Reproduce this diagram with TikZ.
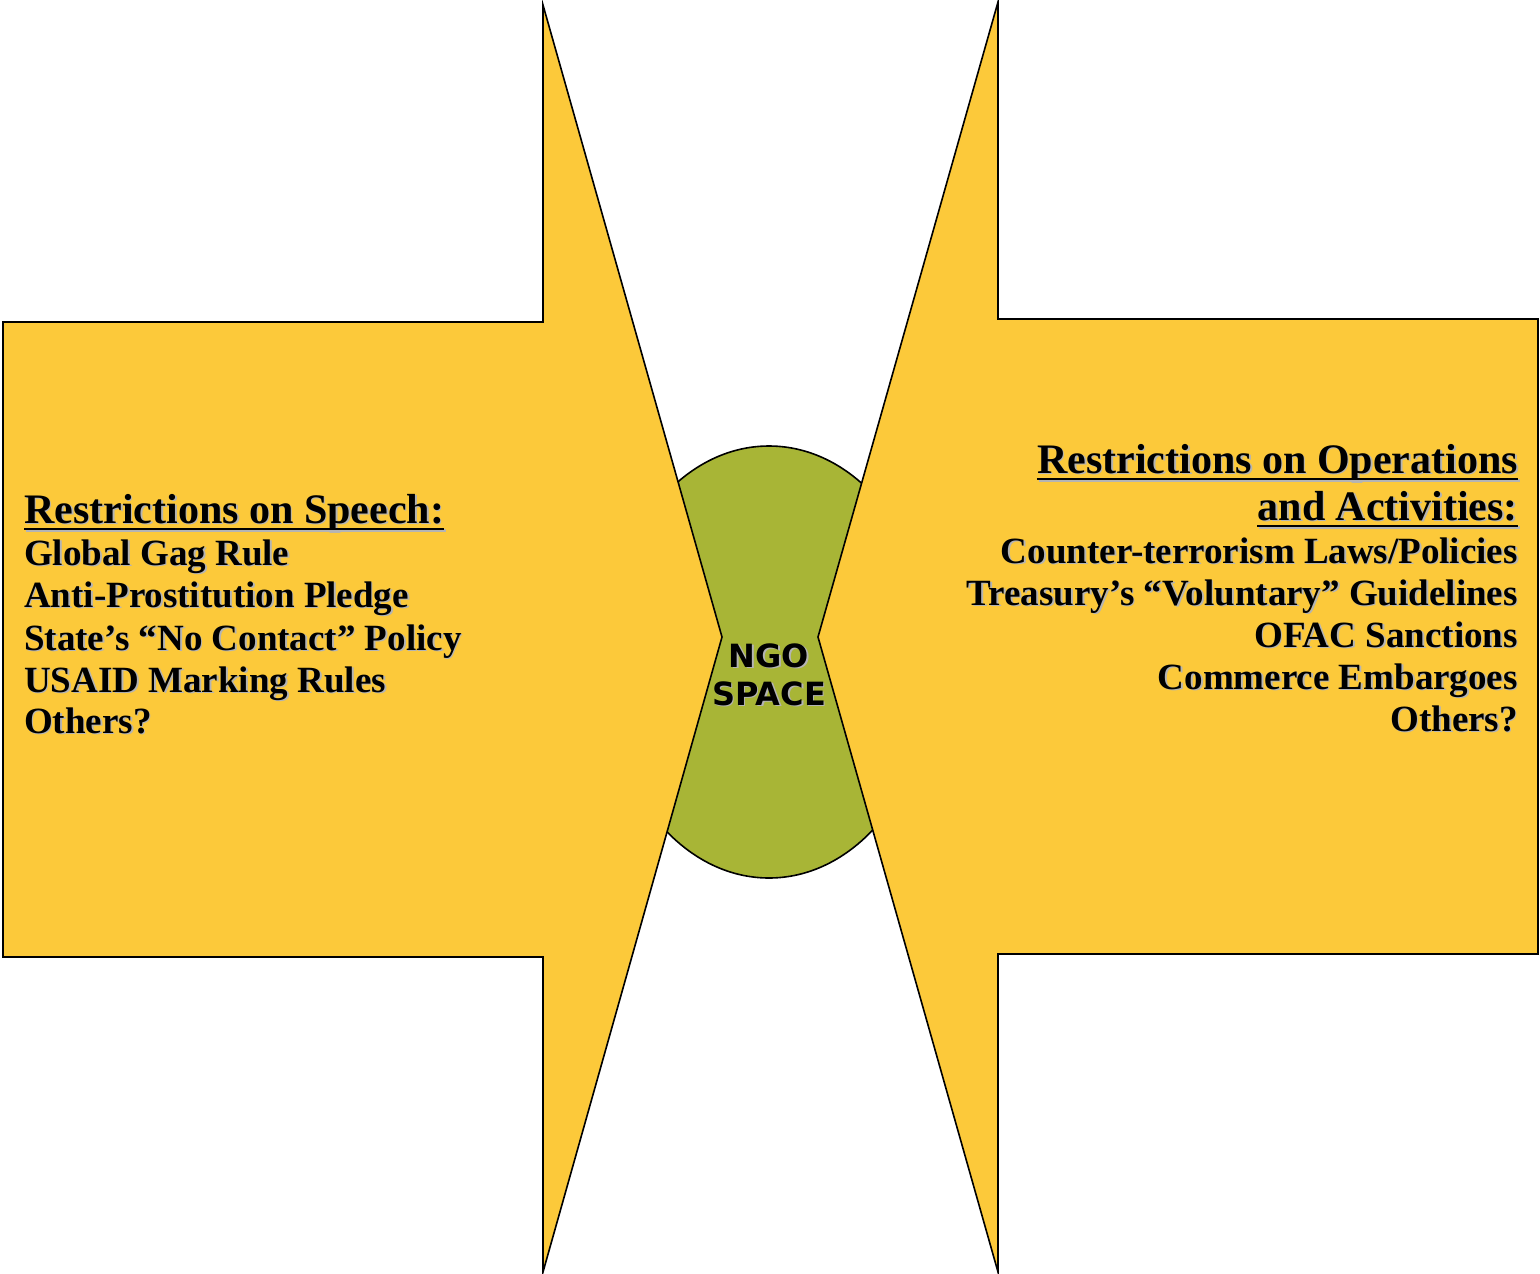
\documentclass[tikz,border=0pt]{standalone}
\usepackage{fontspec}
\setmainfont{Liberation Serif}
\newfontfamily\ngofont{DejaVu Sans}
\usetikzlibrary{calc,shapes.geometric}
\definecolor{arrowyellow}{HTML}{FCC93A}
\definecolor{ngogreen}{HTML}{A8B536}
\definecolor{shadowgray}{HTML}{B4B4B4}
\tikzset{
  outline/.style={draw=black, line width=1.6pt, line join=miter},
  itemtxt/.style={inner sep=0pt, font=\bfseries\fontsize{37}{42}\selectfont},
  headtxt/.style={inner sep=0pt, font=\bfseries\fontsize{42}{48}\selectfont},
  ngotxt/.style={inner sep=0pt, font=\ngofont\bfseries\fontsize{32}{38}\selectfont},
}
\newcommand{\shtxt}[5]{%
  \node[#2, #3, text=shadowgray] (#1s) at ($(#4)+(1.6,1.6)$) {#5};
  \node[#2, #3] (#1) at (#4) {#5};
}
\newcommand{\headline}[4]{%
  \shtxt{#1}{headtxt}{#2}{#3}{#4}
  \draw[shadowgray, line width=2.4pt] ($(#1s.base west)+(0,6)$) -- ($(#1s.base east)+(0,6)$);
  \draw[black, line width=2.4pt] ($(#1.base west)+(0,6)$) -- ($(#1.base east)+(0,6)$);
}
\begin{document}
\begin{tikzpicture}[x=1pt,y=-1pt]
\useasboundingbox (0,0) rectangle (1540,1274);
% center ellipse
\node[ellipse, minimum width=330pt, minimum height=432pt, fill=ngogreen, draw=black, line width=1.6pt, inner sep=0pt] (ngo) at (769,662) {};
% left shape
\draw[outline, fill=arrowyellow] (3,322) -- (543,322) -- (543,5) -- (722,637) -- (543,1272) -- (543,957) -- (3,957) -- cycle;
% right shape
\draw[outline, fill=arrowyellow] (1538,319) -- (998,319) -- (998,2) -- (818,637) -- (998,1272) -- (998,954) -- (1538,954) -- cycle;
% NGO text
\shtxt{ngoa}{ngotxt}{anchor=base}{769,667}{NGO}
\shtxt{ngob}{ngotxt}{anchor=base}{769,705}{SPACE}
% left texts
\headline{lh}{anchor=base west}{24,523}{Restrictions on Speech:}
\shtxt{la}{itemtxt}{anchor=base west}{24,565}{Global Gag Rule}
\shtxt{lb}{itemtxt}{anchor=base west}{24,607}{Anti-Prostitution Pledge}
\shtxt{lc}{itemtxt}{anchor=base west}{24,650}{State’s “No Contact” Policy}
\shtxt{ld}{itemtxt}{anchor=base west}{24,692}{USAID Marking Rules}
\shtxt{le}{itemtxt}{anchor=base west}{24,733}{Others?}
% right texts
\headline{rh}{anchor=base east}{1518,473}{Restrictions on Operations}
\headline{rg}{anchor=base east}{1518,520}{and Activities:}
\shtxt{ra}{itemtxt}{anchor=base east}{1518,563}{Counter-terrorism Laws/Policies}
\shtxt{rb}{itemtxt}{anchor=base east}{1518,605}{Treasury’s “Voluntary” Guidelines}
\shtxt{rc}{itemtxt}{anchor=base east}{1518,647}{OFAC Sanctions}
\shtxt{rd}{itemtxt}{anchor=base east}{1518,689}{Commerce Embargoes}
\shtxt{re}{itemtxt}{anchor=base east}{1518,731}{Others?}
\end{tikzpicture}
\end{document}
